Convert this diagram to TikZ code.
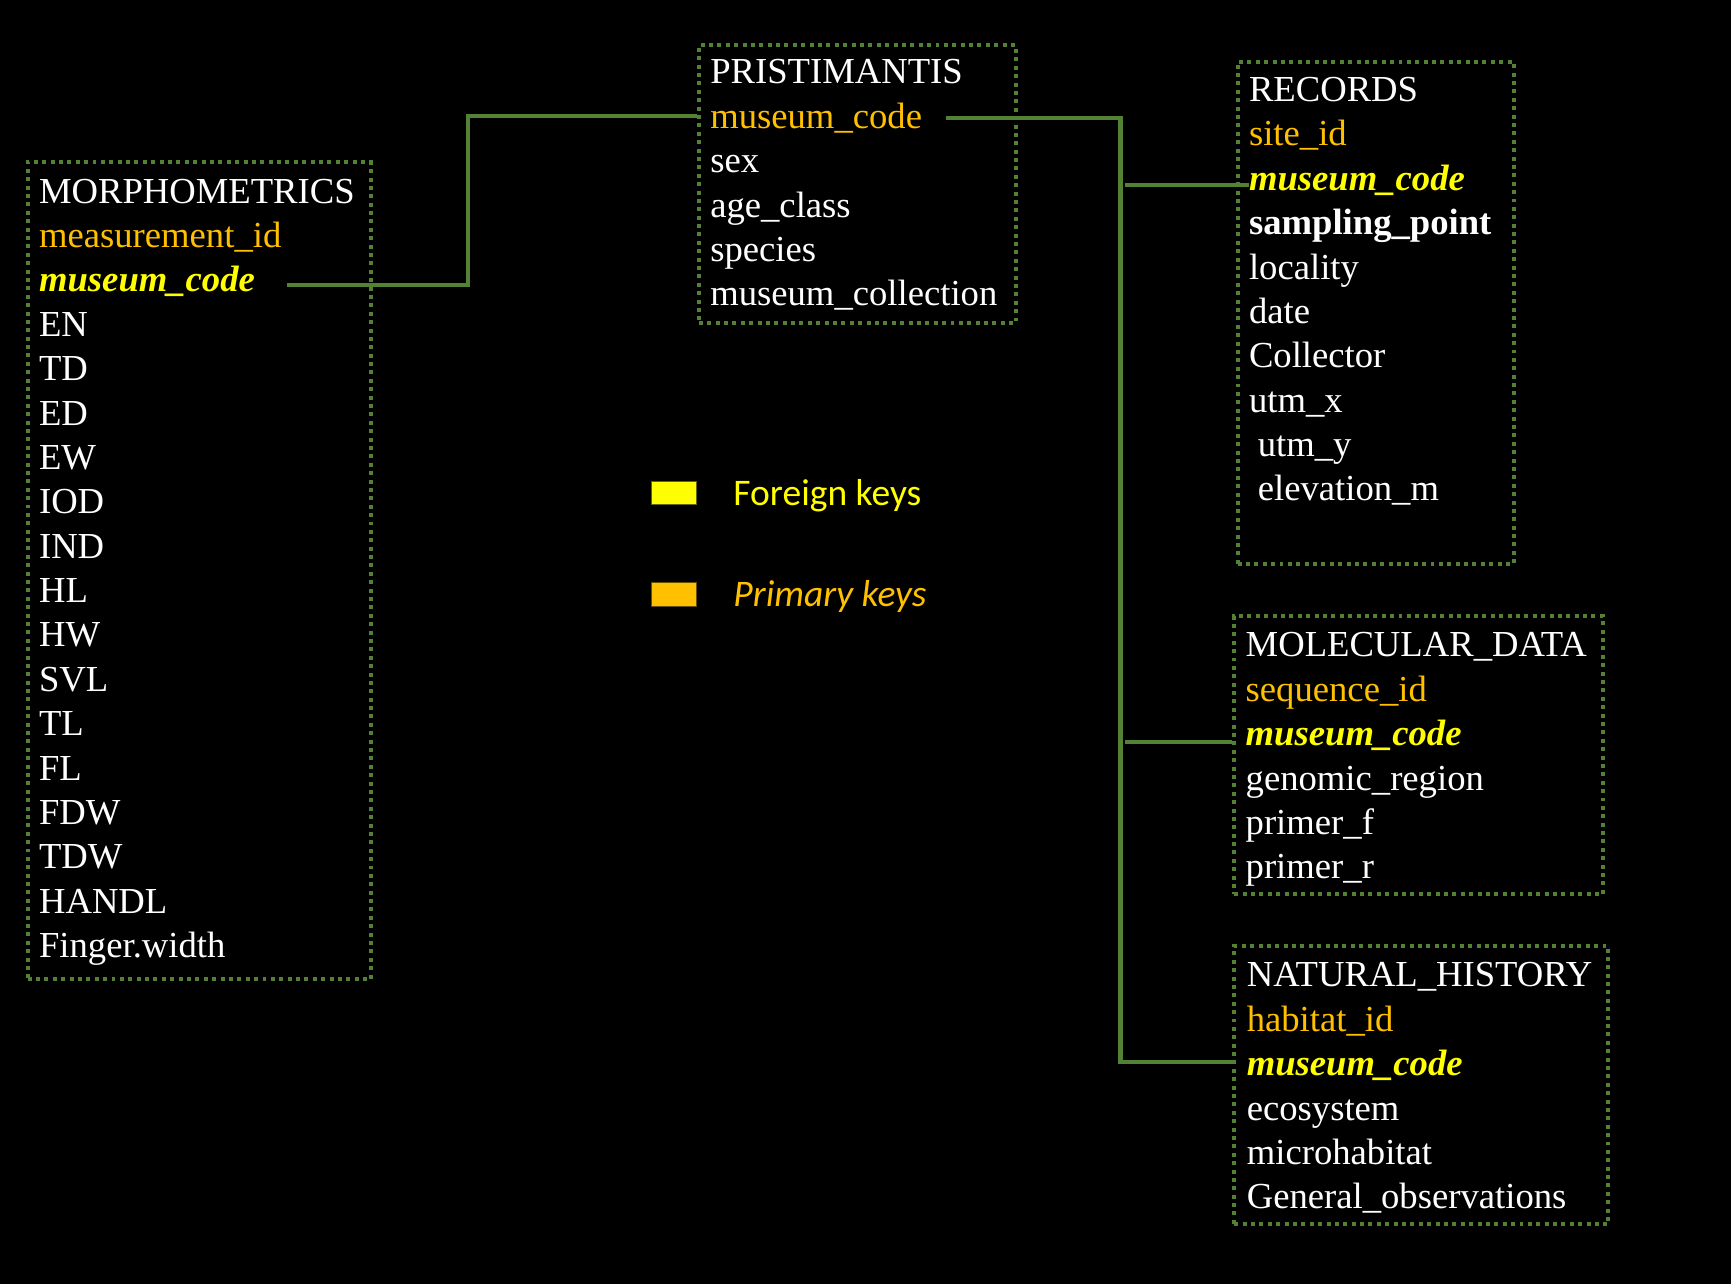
\documentclass[tikz,border=0pt]{standalone}
\usepackage{fontspec}
\setmainfont{Liberation Serif}
\newfontfamily\legendfont{Carlito}
\usetikzlibrary{fit}
\definecolor{tablegreen}{RGB}{84,130,53}
\definecolor{pkorange}{RGB}{255,192,0}
\definecolor{fkyellow}{RGB}{255,255,0}
\newcommand{\rowfont}{\fontsize{16.6}{20}\selectfont}

\begin{document}
\begin{tikzpicture}[x=0.5pt,y=-0.5pt]
	\tikzstyle{Field} = [anchor=base west, inner sep=0pt, text height=0.72em, text depth=0.22em, text=white, font=\rowfont]
	\tikzstyle{PK} = [Field, text=pkorange]
	\tikzstyle{FK} = [Field, text=fkyellow, font=\rowfont\bfseries\itshape]
	\tikzstyle{Table} = [draw=tablegreen, line width=1.8pt, dash pattern=on 1.8pt off 2pt, inner sep=0pt]
	\tikzstyle{Link} = [draw=tablegreen, line width=1.9pt]
	\fill[black] (0,0) rectangle (1568,1163);
	\useasboundingbox (0,0) rectangle (1568,1163);
	% MORPHOMETRICS
	\node (mHead) at (35,184) [Field] {MORPHOMETRICS};
	\node (mPK) at (35,224.2) [PK] {measurement\_id};
	\node (mFK) at (35,264.4) [FK] {museum\_code};
	\foreach \f [count=\i from 3] in {EN,TD,ED,EW,IOD,IND,HL,HW,SVL,TL,FL,FDW,TDW,HANDL,Finger.width}
		\node (m\i) at (35,184+\i*40.2) [Field] {\f};
	\node (mBox) [Table, fit={(25,147) (336,887)}] {};
	% PRISTIMANTIS
	\node (pHead) at (643,76) [Field] {PRISTIMANTIS};
	\node (pPK) at (643,116.2) [PK] {museum\_code};
	\foreach \f [count=\i from 2] in {sex,age\_class,species,museum\_collection}
		\node (p\i) at (643,76+\i*40.2) [Field] {\f};
	\node (pBox) [Table, fit={(633,41) (920,293)}] {};
	% RECORDS
	\node (rHead) at (1131,92) [Field] {RECORDS};
	\node (rPK) at (1131,132.2) [PK] {site\_id};
	\node (rFK) at (1131,172.4) [FK] {museum\_code};
	\node (r3) at (1131,212.6) [Field, font=\rowfont\bfseries] {sampling\_point};
	\foreach \f [count=\i from 4] in {locality,date,Collector,utm\_x}
		\node (r\i) at (1131,92+\i*40.2) [Field] {\f};
	\node (r8) at (1139,413.6) [Field] {utm\_y};
	\node (r9) at (1139,453.8) [Field] {elevation\_m};
	\node (rBox) [Table, fit={(1121,56) (1371,511)}] {};
	% MOLECULAR_DATA
	\node (dHead) at (1128,595) [Field] {MOLECULAR\_DATA};
	\node (dPK) at (1128,635.2) [PK] {sequence\_id};
	\node (dFK) at (1128,675.4) [FK] {museum\_code};
	\foreach \f [count=\i from 3] in {genomic\_region,primer\_f,primer\_r}
		\node (d\i) at (1128,595+\i*40.2) [Field] {\f};
	\node (dBox) [Table, fit={(1118,558) (1452,810)}] {};
	% NATURAL_HISTORY
	\node (nHead) at (1129,894) [Field] {NATURAL\_HISTORY};
	\node (nPK) at (1129,934.2) [PK] {habitat\_id};
	\node (nFK) at (1129,974.4) [FK] {museum\_code};
	\foreach \f [count=\i from 3] in {ecosystem,microhabitat,General\_observations}
		\node (n\i) at (1129,894+\i*40.2) [Field] {\f};
	\node (nBox) [Table, fit={(1118,857) (1457,1109)}] {};
	% legend
	\node (fkKey) [draw=black!60!fkyellow, line width=0.4pt, fill=fkyellow, inner sep=0pt, fit={(590,436) (631,457)}] {};
	\node (pkKey) [draw=black!60!pkorange, line width=0.4pt, fill=pkorange, inner sep=0pt, fit={(590,528) (631,549)}] {};
	\node (fkText) at (664,458) [anchor=base west, inner sep=0pt, text=fkyellow, font=\legendfont\fontsize{17}{20}\selectfont] {Foreign keys};
	\node (pkText) at (664,549.5) [anchor=base west, inner sep=0pt, text=pkorange, font=\legendfont\itshape\fontsize{17}{20}\selectfont] {Primary keys};
	% links
	\coordinate (bend1) at (424,105);
	\coordinate (spine) at (1015,962);
	\draw[Link] ([xshift=14.5pt,yshift=0.5pt]mFK.east) -| (bend1) -- (bend1 -| pBox.west);
	\draw[Link] ([xshift=10.5pt,yshift=2pt]pPK.east) -| (spine) -- (spine -| nBox.west);
	\draw[Link] ([xshift=2pt]spine |- rFK.west) -- (rFK.west);
	\draw[Link] ([xshift=2pt,yshift=-1pt]spine |- dFK.west) -- ([yshift=-1pt]dFK.west -| dBox.west);
\end{tikzpicture}
\end{document}
